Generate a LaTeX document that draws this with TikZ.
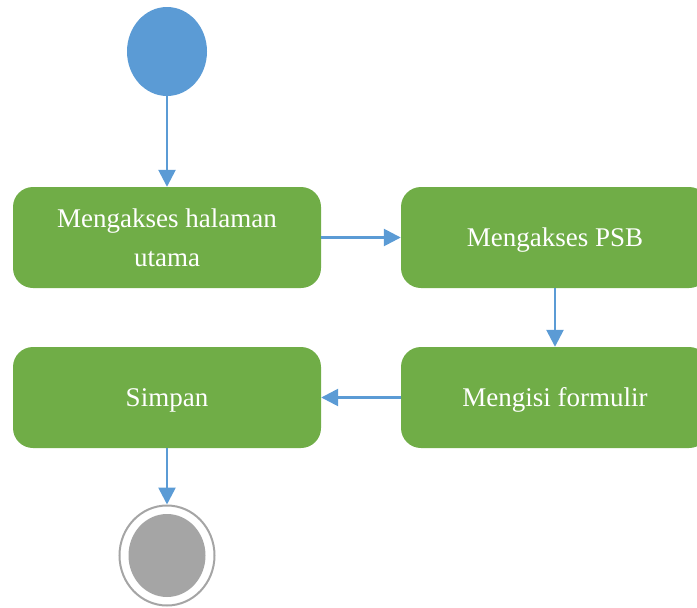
\documentclass[tikz,border=0pt]{standalone}
\usepackage{fontspec}
\setmainfont{Liberation Serif}
\usetikzlibrary{arrows.meta,shapes.geometric}
\definecolor{actgreen}{HTML}{70AD47}
\definecolor{flowblue}{HTML}{5B9BD5}
\definecolor{endgray}{HTML}{A5A5A5}
\tikzset{
  action/.style={rectangle, rounded corners=20pt, fill=actgreen, draw=none,
    text=white, font=\fontsize{27}{39}\selectfont, align=center,
    inner sep=0pt, minimum width=308pt, minimum height=101pt},
  oneline/.style={text height=18pt, text depth=0pt},
  flow/.style={draw=flowblue, line width=2.6pt,
    -{Triangle[length=17pt,width=17pt]}}
}
\begin{document}
\begin{tikzpicture}[x=1pt,y=-1pt]
\useasboundingbox (0,0) rectangle (697,608);
\clip (0,0) rectangle (697,608);
% start node
\node[ellipse, fill=flowblue, minimum width=80pt, minimum height=89pt, inner sep=0pt] (start) at (167,51.5) {};
% actions
\node[action] (akses) at (167,237.5) {Mengakses halaman\\utama};
\node[action, oneline] (psb) at (555,237.5) {Mengakses PSB};
\node[action, oneline] (isi) at (555,397.5) {Mengisi formulir};
\node[action, oneline] (simpan) at (167,397.5) {Simpan};
% final node
\node[ellipse, draw=endgray, line width=2pt, fill=white, minimum width=95pt, minimum height=100pt, inner sep=0pt] (final) at (167,555.5) {};
\node[ellipse, fill=endgray, minimum width=77pt, minimum height=83pt, inner sep=0pt] (finalcore) at (final.center) {};
% control flow
\draw[flow] (start.south) -- (akses.north);
\draw[flow] (akses.east) -- (psb.west);
\draw[flow] (psb.south) -- (isi.north);
\draw[flow] (isi.west) -- (simpan.east);
\draw[flow] (simpan.south) -- (final.north);
\end{tikzpicture}
\end{document}
